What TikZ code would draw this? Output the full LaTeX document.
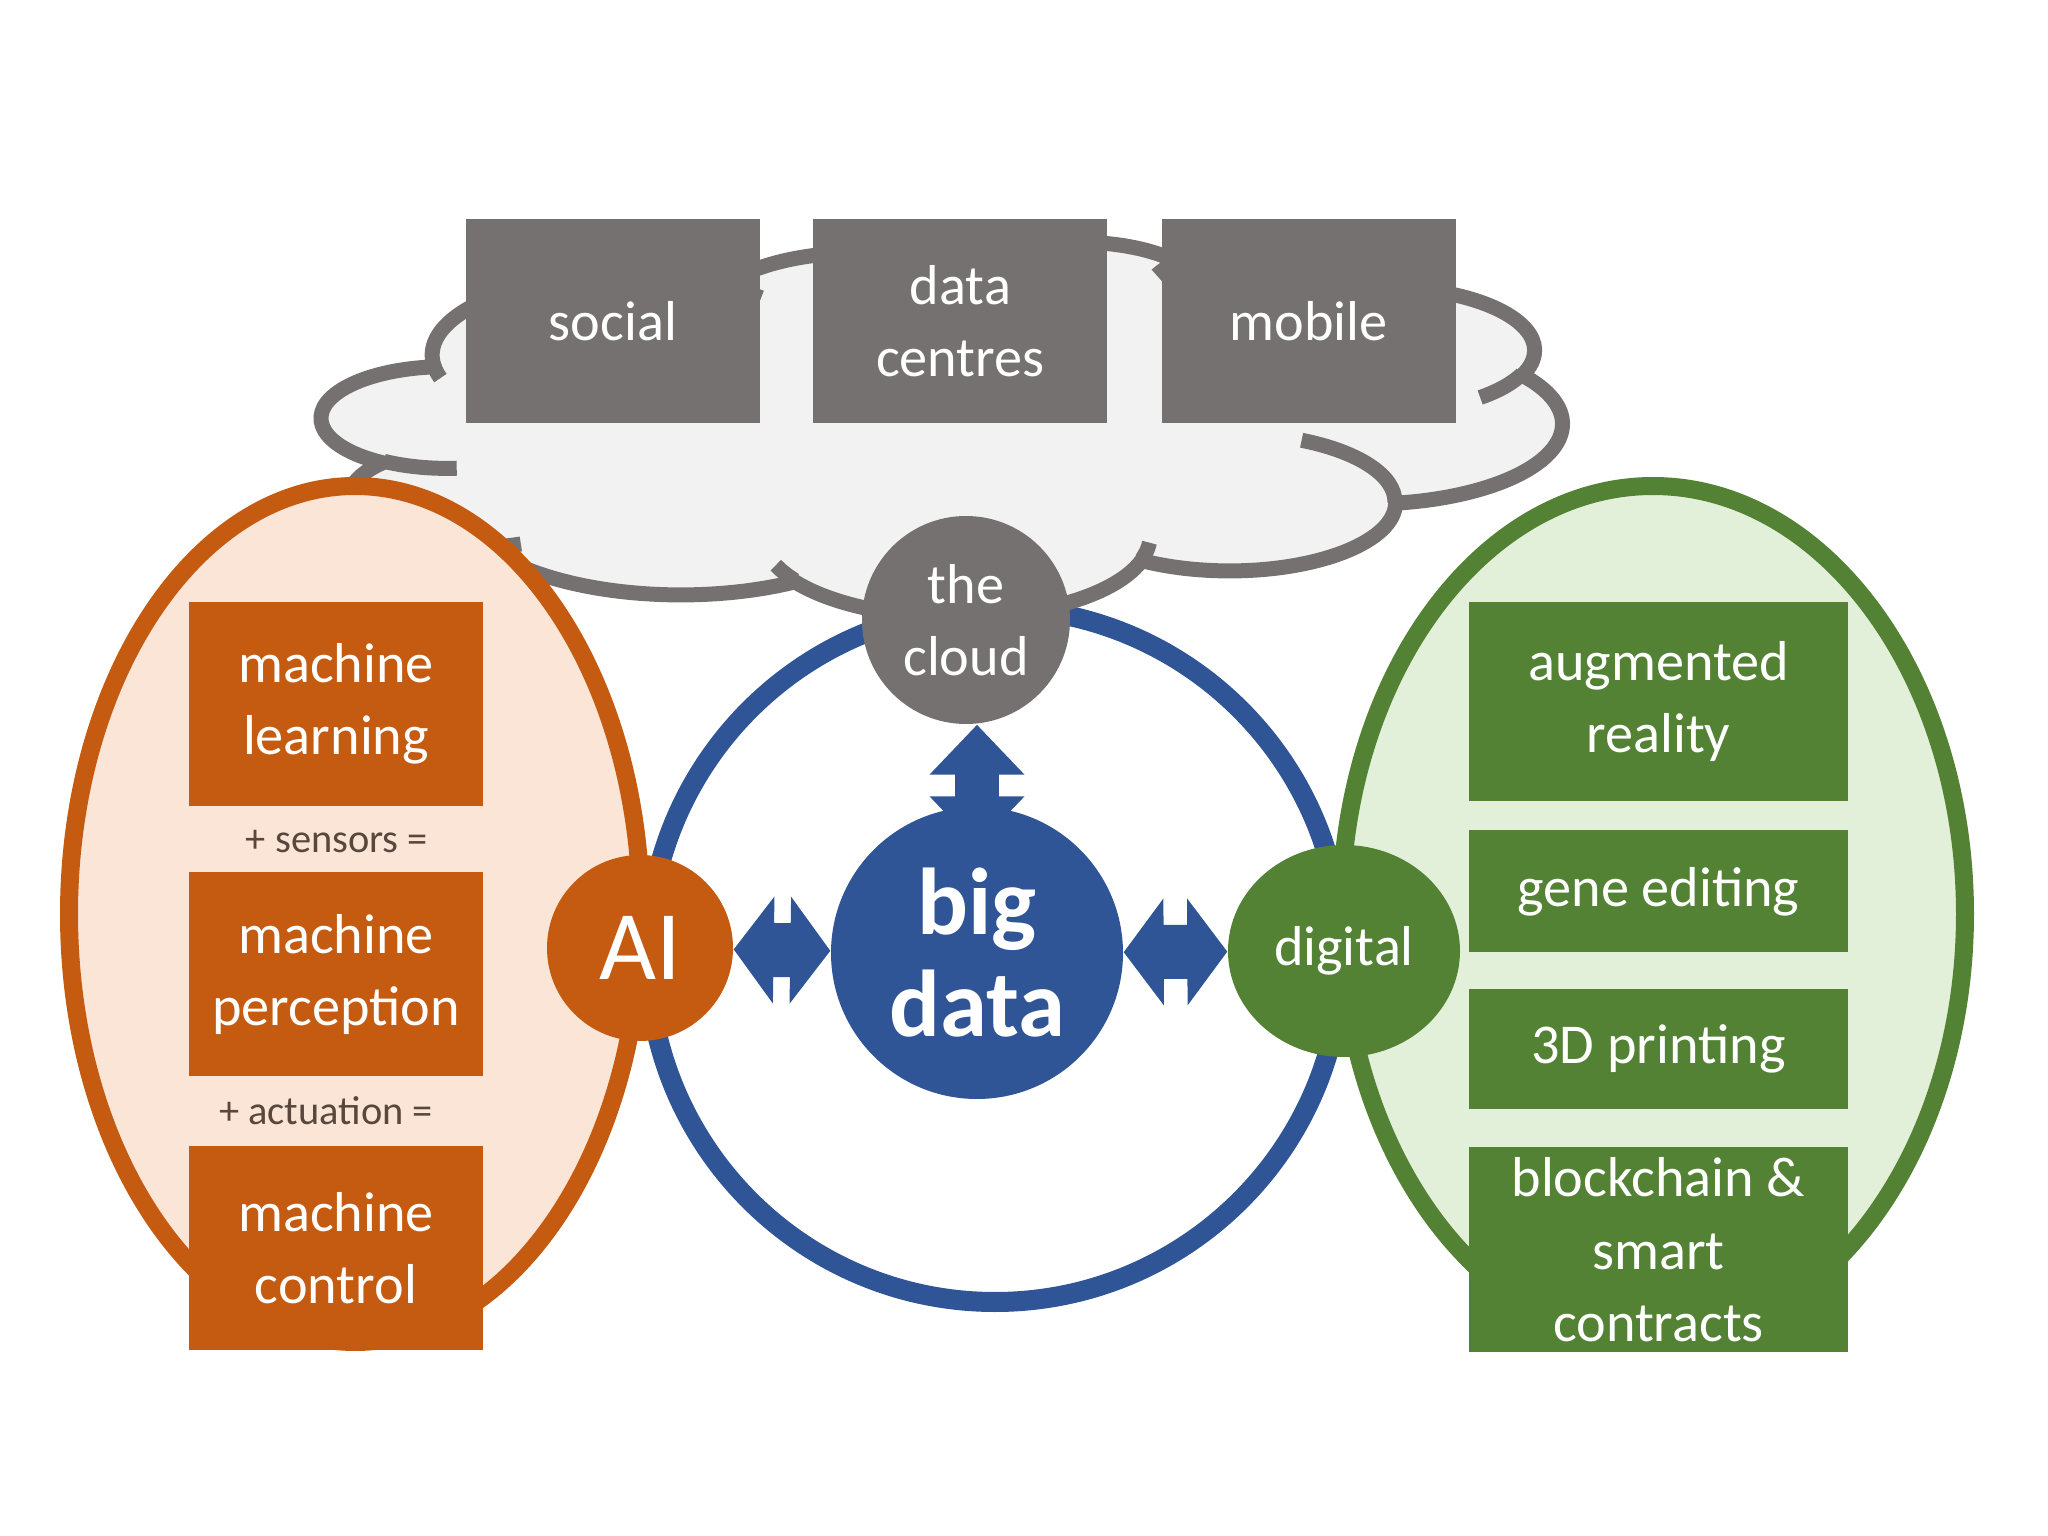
\documentclass[tikz,border=0pt]{standalone}
\usepackage{fontspec}
\setmainfont{Carlito}
\usetikzlibrary{positioning,arrows.meta,shapes.geometric}
\definecolor{boxgray}{RGB}{118,113,113}
\definecolor{cloudfill}{RGB}{242,242,242}
\definecolor{aiorange}{RGB}{197,90,17}
\definecolor{peach}{RGB}{251,229,214}
\definecolor{diggreen}{RGB}{84,130,53}
\definecolor{palegreen}{RGB}{226,240,217}
\definecolor{datablue}{RGB}{47,85,151}
\definecolor{notetext}{RGB}{89,70,60}
% one lobe of the cloud: x radius, y radius, start angle, sweep (seen angles)
\newcommand\cloudarc[4]{arc[x radius=#1,y radius=#2,
start angle={atan2(#1*sin(#3),#2*cos(#3))},
delta angle={mod(atan2(#1*sin(#3+#4),#2*cos(#3+#4))-atan2(#1*sin(#3),#2*cos(#3))+720,360)}]}
\tikzset{
techbox/.style={
rectangle,
minimum width=2.94cm,
minimum height=2.04cm,
align=center,
inner sep=0pt,
text=white,
font=\fontsize{16}{20.5}\selectfont
},
graybox/.style={techbox,fill=boxgray},
orangebox/.style={techbox,fill=aiorange},
greenbox/.style={techbox,fill=diggreen,minimum width=3.79cm},
hub/.style={
circle,
inner sep=0pt,
align=center,
text=white,
font=\fontsize{16}{20.5}\selectfont
},
area/.style={
ellipse,
line width=1.8mm,
minimum height=8.56cm
},
note/.style={
text=notetext,
font=\fontsize{11.5}{14}\selectfont
},
cloudline/.style={
draw=boxgray,
line width=1.5mm
},
dblarrow/.style={
{Triangle[width=10.5mm,length=4mm]}-{Triangle[width=10.5mm,length=4mm]},
line width=5.4mm,
draw=datablue
},
vdblarrow/.style={
{Triangle[width=9.2mm,length=5mm]}-{Triangle[width=9.2mm,length=5mm]},
line width=4.4mm,
draw=datablue
}
}

\begin{document}
\begin{tikzpicture}
\useasboundingbox (0,0) rectangle (20.48,-15.36);

% ring round big data
\node[circle,draw=datablue,line width=2mm,minimum size=6.94cm](ring) at (9.95,-9.55){};

% the cloud
\begin{scope}[shift={(3.22,-2.41)},xscale=0.28704,yscale=-0.086806]
\draw[cloudline,fill=cloudfill] (3.900,14.370)
\cloudarc{6.753}{9.190}{-190.4875}{123.7805}
\cloudarc{5.333}{7.267}{-144.1024}{89.9452}
\cloudarc{4.365}{5.945}{-145.8079}{99.7230}
\cloudarc{4.857}{6.595}{-130.9861}{117.2417}
\cloudarc{5.333}{7.273}{-78.7089}{109.0269}
\cloudarc{6.775}{9.220}{-46.2673}{130.2690}
\cloudarc{5.785}{7.867}{0.6250}{114.0333}
\cloudarc{6.752}{9.215}{22.4516}{115.1726}
\cloudarc{7.720}{10.543}{66.2426}{75.7110}
\cloudarc{4.360}{5.918}{-274.9421}{146.7356}
\cloudarc{4.345}{5.945}{-246.8285}{152.5189}
-- cycle;
\draw[cloudline]
(4.693,26.177) \cloudarc{4.345}{5.945}{86.742}{26.430}
(6.928,34.899) \cloudarc{4.360}{5.918}{73.611}{11.447}
(16.478,39.090) \cloudarc{6.752}{9.215}{137.624}{14.081}
(28.827,34.751) \cloudarc{6.752}{9.215}{6.453}{15.998}
(34.129,22.954) \cloudarc{5.785}{7.867}{-70.292}{70.917}
(41.798,15.354) \cloudarc{5.333}{7.273}{30.318}{27.752}
(38.324,5.426) \cloudarc{4.857}{6.595}{-13.744}{14.859}
(29.078,3.952) \cloudarc{4.857}{6.595}{-149.181}{18.195}
(22.141,4.720) \cloudarc{4.365}{5.945}{-163.494}{17.686}
(14.000,5.192) \cloudarc{6.753}{9.190}{-66.707}{12.319}
(4.127,15.789) \cloudarc{6.753}{9.190}{157.654}{11.858};
\end{scope}

\node[graybox](social) at (6.13,-3.21){social};
\node[graybox,right=0.52cm of social](centres){data\\centres};
\node[graybox,right=0.53cm of centres](mobile){mobile};

% the two fields
\node[area,draw=aiorange,fill=peach,minimum width=5.72cm](aiarea) at (3.55,-9.14){};
\node[area,draw=diggreen,fill=palegreen,minimum width=6.24cm](digarea) at (16.53,-9.14){};

\node[orangebox](learning) at (3.36,-7.04){machine\\learning};
\node[orangebox,below=0.65cm of learning](perception){machine\\perception};
\node[orangebox,below=0.68cm of perception](control){machine\\control};
\node[note] (sensors) at (3.37,-8.42){+ sensors =};
\node[note] (actuation) at (3.26,-11.11){+ actuation =};

\node[greenbox,minimum height=1.99cm](augmented) at (16.585,-7.015){augmented\\reality};
\node[greenbox,minimum height=1.22cm,below=0.28cm of augmented](gene){gene editing};
\node[greenbox,minimum height=1.20cm,below=0.35cm of gene](printing){3D printing};
\node[greenbox,minimum height=2.05cm,below=0.37cm of printing](blockchain){blockchain \&\\smart\\contracts};

% hubs
\node[hub,fill=boxgray,minimum size=2.08cm](thecloud) at (9.66,-6.20){the\\cloud};
\node[hub,fill=datablue,minimum size=2.92cm,font=\bfseries\fontsize{27}{29}\selectfont](bigdata) at (9.77,-9.53){big\\data};
\node[hub,fill=aiorange,minimum size=1.86cm,font=\fontsize{28}{30}\selectfont](ai) at (6.40,-9.48){AI};
\node[hub,ellipse,fill=diggreen,minimum width=2.32cm,minimum height=2.12cm](digital) at (13.44,-9.51){digital};

\draw[dblarrow](ai)--(bigdata);
\draw[dblarrow](bigdata)--(digital);
\draw[vdblarrow](thecloud.south -| bigdata)--([yshift=-4mm]bigdata.north);
\end{tikzpicture}
\end{document}
